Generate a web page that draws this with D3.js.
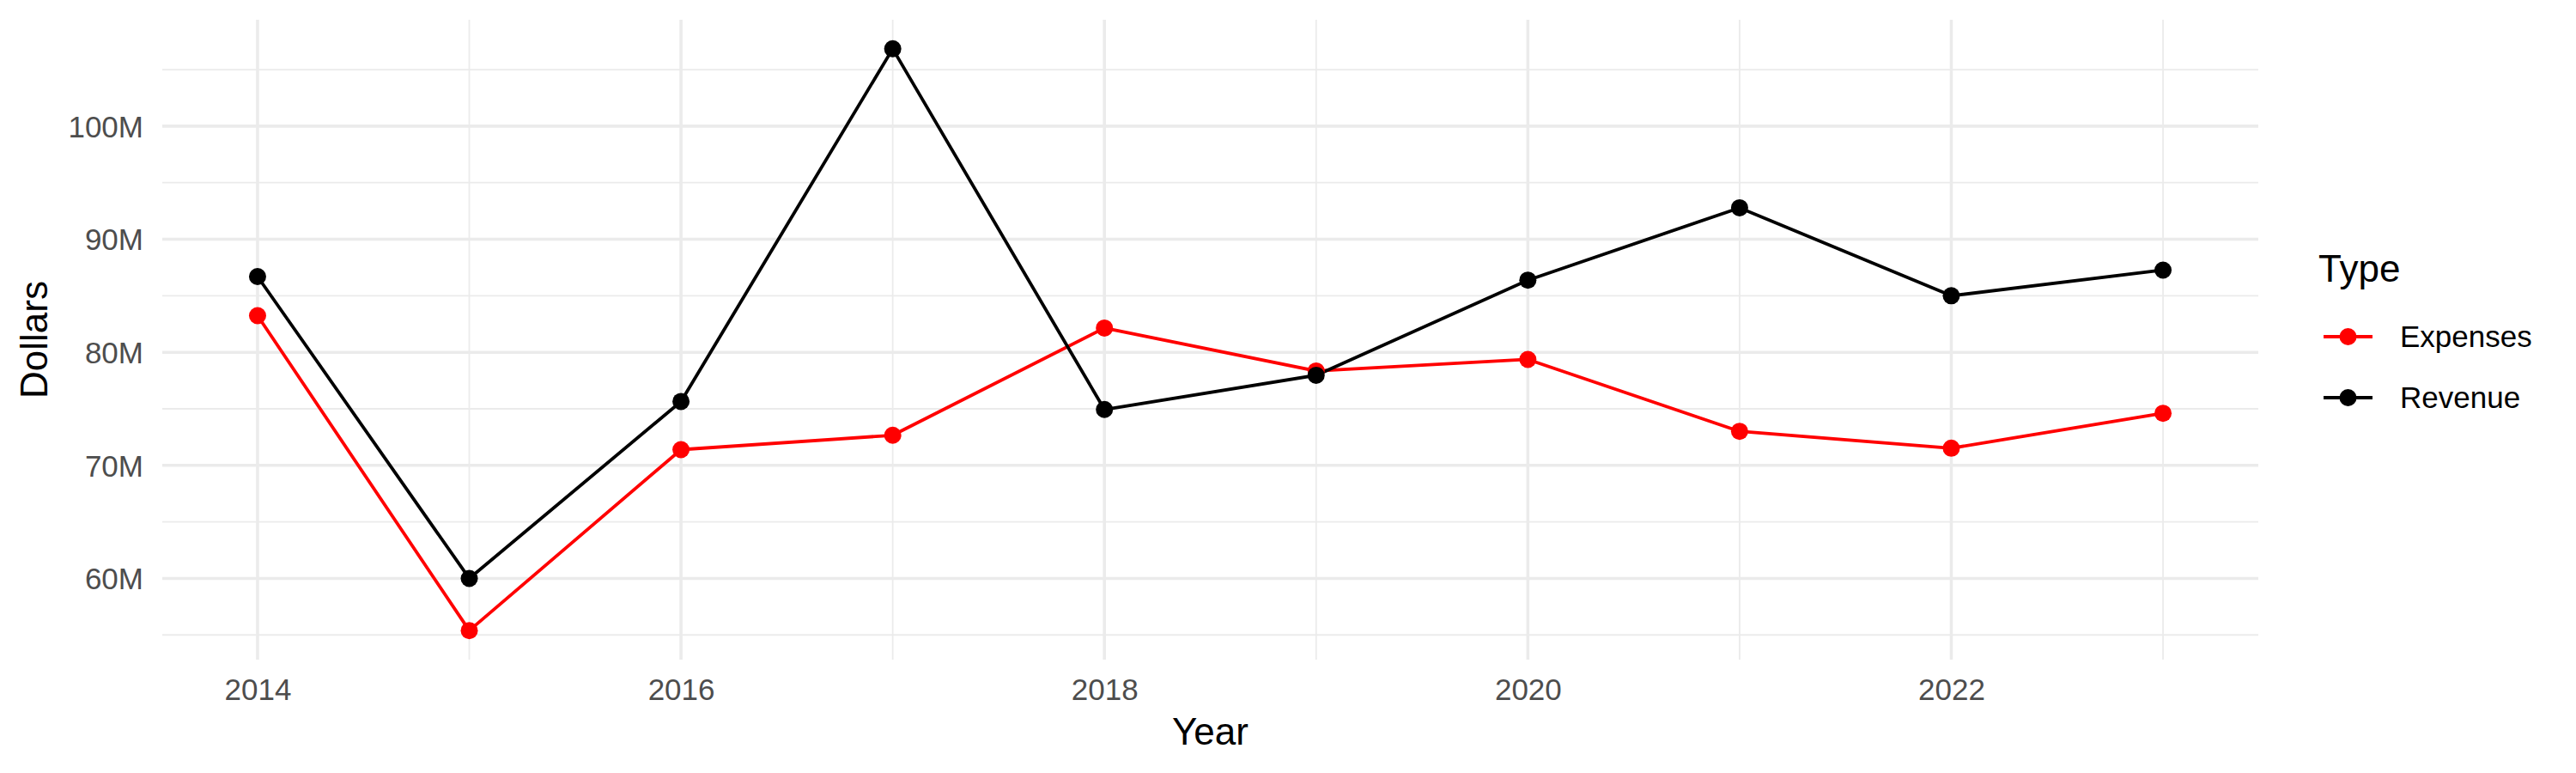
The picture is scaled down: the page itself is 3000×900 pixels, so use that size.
<!DOCTYPE html>
<meta charset="utf-8">
<head>
    <title>Revenue and expenses by year</title>
    <script src="https://d3js.org/d3.v7.min.js"></script>
    <style>
        body { margin: 0; background: #ffffff; }
        text { font-family: "Liberation Sans", Arial, sans-serif; }
    </style>
</head>
<body>
<div id="my_dataviz"></div>
<script>

// data (dollars)
var years = [2014, 2015, 2016, 2017, 2018, 2019, 2020, 2021, 2022, 2023];
var revenue = [86.70e6, 60.00e6, 75.65e6, 106.84e6, 74.94e6, 77.97e6, 86.38e6, 92.78e6, 85.00e6, 87.27e6];
var expenses = [83.24e6, 55.39e6, 71.39e6, 72.66e6, 82.15e6, 78.35e6, 79.37e6, 73.01e6, 71.52e6, 74.61e6];
var seriesNames = ["Expenses", "Revenue"];
var seriesColors = ["#ff0000", "#000000"];
var xMajor = [2014, 2016, 2018, 2020, 2022];
var xMinor = [2015, 2017, 2019, 2021, 2023];
var yMajor = [60e6, 70e6, 80e6, 90e6, 100e6];
var yMinor = [55e6, 65e6, 75e6, 85e6, 95e6, 105e6];

var series = [expenses, revenue];

// set dimensions and margins of the graph
var totalW = 3000, totalH = 900;
var margin = {top: 23, right: 370, bottom: 132, left: 189},
    width = totalW - margin.left - margin.right,
    height = totalH - margin.top - margin.bottom;

var svg = d3.select("#my_dataviz")
    .append("svg")
    .attr("width", totalW)
    .attr("height", totalH)
    .append("g")
    .attr("transform", "translate(" + margin.left + "," + margin.top + ")");

// ggplot style 5% expansion
function expand(ext) {
    var pad = (ext[1] - ext[0]) * 0.05;
    return [ext[0] - pad, ext[1] + pad];
}

var x = d3.scaleLinear()
    .domain(expand(d3.extent(years)))
    .range([0, width]);

var y = d3.scaleLinear()
    .domain(expand(d3.extent(revenue.concat(expenses))))
    .range([height, 0]);

var gridColor = "#ebebeb";

// minor gridlines
svg.selectAll(".ymin").data(yMinor).enter().append("line")
    .attr("x1", 0).attr("x2", width)
    .attr("y1", function(d) { return y(d); }).attr("y2", function(d) { return y(d); })
    .attr("stroke", gridColor).attr("stroke-width", 1.8);
svg.selectAll(".xmin").data(xMinor).enter().append("line")
    .attr("y1", 0).attr("y2", height)
    .attr("x1", function(d) { return x(d); }).attr("x2", function(d) { return x(d); })
    .attr("stroke", gridColor).attr("stroke-width", 1.8);

// major gridlines
svg.selectAll(".ymaj").data(yMajor).enter().append("line")
    .attr("x1", 0).attr("x2", width)
    .attr("y1", function(d) { return y(d); }).attr("y2", function(d) { return y(d); })
    .attr("stroke", gridColor).attr("stroke-width", 3.6);
svg.selectAll(".xmaj").data(xMajor).enter().append("line")
    .attr("y1", 0).attr("y2", height)
    .attr("x1", function(d) { return x(d); }).attr("x2", function(d) { return x(d); })
    .attr("stroke", gridColor).attr("stroke-width", 3.6);

// axes (no domain line, no ticks, ggplot minimal)
var xAxis = svg.append("g")
    .attr("transform", "translate(0," + height + ")")
    .call(d3.axisBottom(x).tickValues(xMajor).tickFormat(d3.format("d")).tickSize(0).tickPadding(22));
var yAxis = svg.append("g")
    .call(d3.axisLeft(y).tickValues(yMajor).tickFormat(function(d) { return (d / 1e6) + "M"; }).tickSize(0).tickPadding(22));
[xAxis, yAxis].forEach(function(a) {
    a.select(".domain").remove();
    a.selectAll("text")
        .style("font-size", "35px")
        .style("font-family", "'Liberation Sans', Arial, sans-serif")
        .attr("fill", "#4d4d4d");
});
xAxis.selectAll("text").attr("dy", "0.71em");
yAxis.selectAll("text").attr("dy", "0.35em");

// axis titles
svg.append("text")
    .attr("text-anchor", "middle")
    .attr("x", width / 2)
    .attr("y", 867 - margin.top)
    .style("font-size", "44px")
    .text("Year");
svg.append("text")
    .attr("text-anchor", "middle")
    .attr("transform", "rotate(-90)")
    .attr("x", -height / 2)
    .attr("y", 55 - margin.left)
    .style("font-size", "44px")
    .text("Dollars");

// lines
var line = d3.line()
    .x(function(d, i) { return x(years[i]); })
    .y(function(d) { return y(d); });

series.forEach(function(s, k) {
    svg.append("path")
        .datum(s)
        .attr("fill", "none")
        .attr("stroke", seriesColors[k])
        .attr("stroke-width", 3.8)
        .attr("stroke-linejoin", "round")
        .attr("d", line);
});

// points
series.forEach(function(s, k) {
    svg.selectAll(".pt" + k).data(s).enter().append("circle")
        .attr("cx", function(d, i) { return x(years[i]); })
        .attr("cy", function(d) { return y(d); })
        .attr("r", 10)
        .attr("fill", seriesColors[k]);
});

// legend
var legend = d3.select("svg").append("g");
legend.append("text")
    .attr("x", 2700).attr("y", 328)
    .style("font-size", "44px")
    .text("Type");
seriesNames.forEach(function(name, k) {
    var cy = 392 + k * 71;
    legend.append("line")
        .attr("x1", 2706).attr("x2", 2763)
        .attr("y1", cy).attr("y2", cy)
        .attr("stroke", seriesColors[k])
        .attr("stroke-width", 3.8);
    legend.append("circle")
        .attr("cx", 2734.5).attr("cy", cy)
        .attr("r", 10)
        .attr("fill", seriesColors[k]);
    legend.append("text")
        .attr("x", 2795).attr("y", cy)
        .attr("dy", "0.35em")
        .style("font-size", "35px")
        .text(name);
});

</script>
</body>
</html>
